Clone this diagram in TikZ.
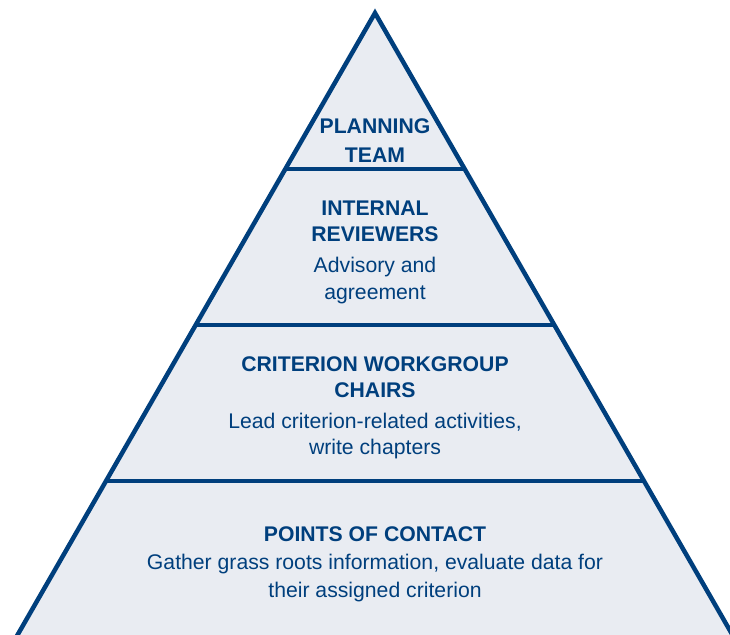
\documentclass[tikz,border=0pt]{standalone}
\usepackage{fontspec}
\setmainfont{Liberation Sans}
\usetikzlibrary{calc}
\definecolor{pyrblue}{RGB}{0,63,125}
\definecolor{pyrfill}{RGB}{233,236,242}

\begin{document}
\begin{tikzpicture}[x=1pt, y=-1pt, line width=4.5pt, every node/.style={align=center, text=pyrblue, font=\fontsize{21.2}{26.5}\selectfont}]
	\useasboundingbox (0,0) rectangle (730,634);
	% Outline of the pyramid and its tiers
	\coordinate (Apex)		at (375,13);
	\coordinate (BaseLeft)	at (1.4,663);
	\coordinate (BaseRight)	at (748.6,663);
	\begin{scope}
		\clip (0,0) rectangle (730,634);
		\draw[draw=pyrblue, fill=pyrfill, line join=miter] (BaseLeft) -- (Apex) -- (BaseRight);
		\foreach \t in {0.24, 0.48, 0.72}
			\draw[pyrblue] ($(Apex)!\t!(BaseLeft)$) -- ($(Apex)!\t!(BaseRight)$);
	\end{scope}
	% Text of each tier
	\node (PlanningTeam)		at (375,140.5)	{\textbf{PLANNING}\\[3pt]\textbf{TEAM}};
	\node (InternalReviewers)	at (375,252)	{\textbf{INTERNAL}\\\textbf{REVIEWERS}\\[4.5pt]Advisory and\\agreement};
	\node (WorkgroupChairs)		at (375,408)	{\textbf{CRITERION WORKGROUP}\\\textbf{CHAIRS}\\[4pt]Lead criterion-related activities,\\write chapters};
	\node (PointsOfContact)		at (375,564)	{\textbf{POINTS OF CONTACT}\\[1.5pt]Gather grass roots information, evaluate data for\\[1.5pt]their assigned criterion};
\end{tikzpicture}
\end{document}
